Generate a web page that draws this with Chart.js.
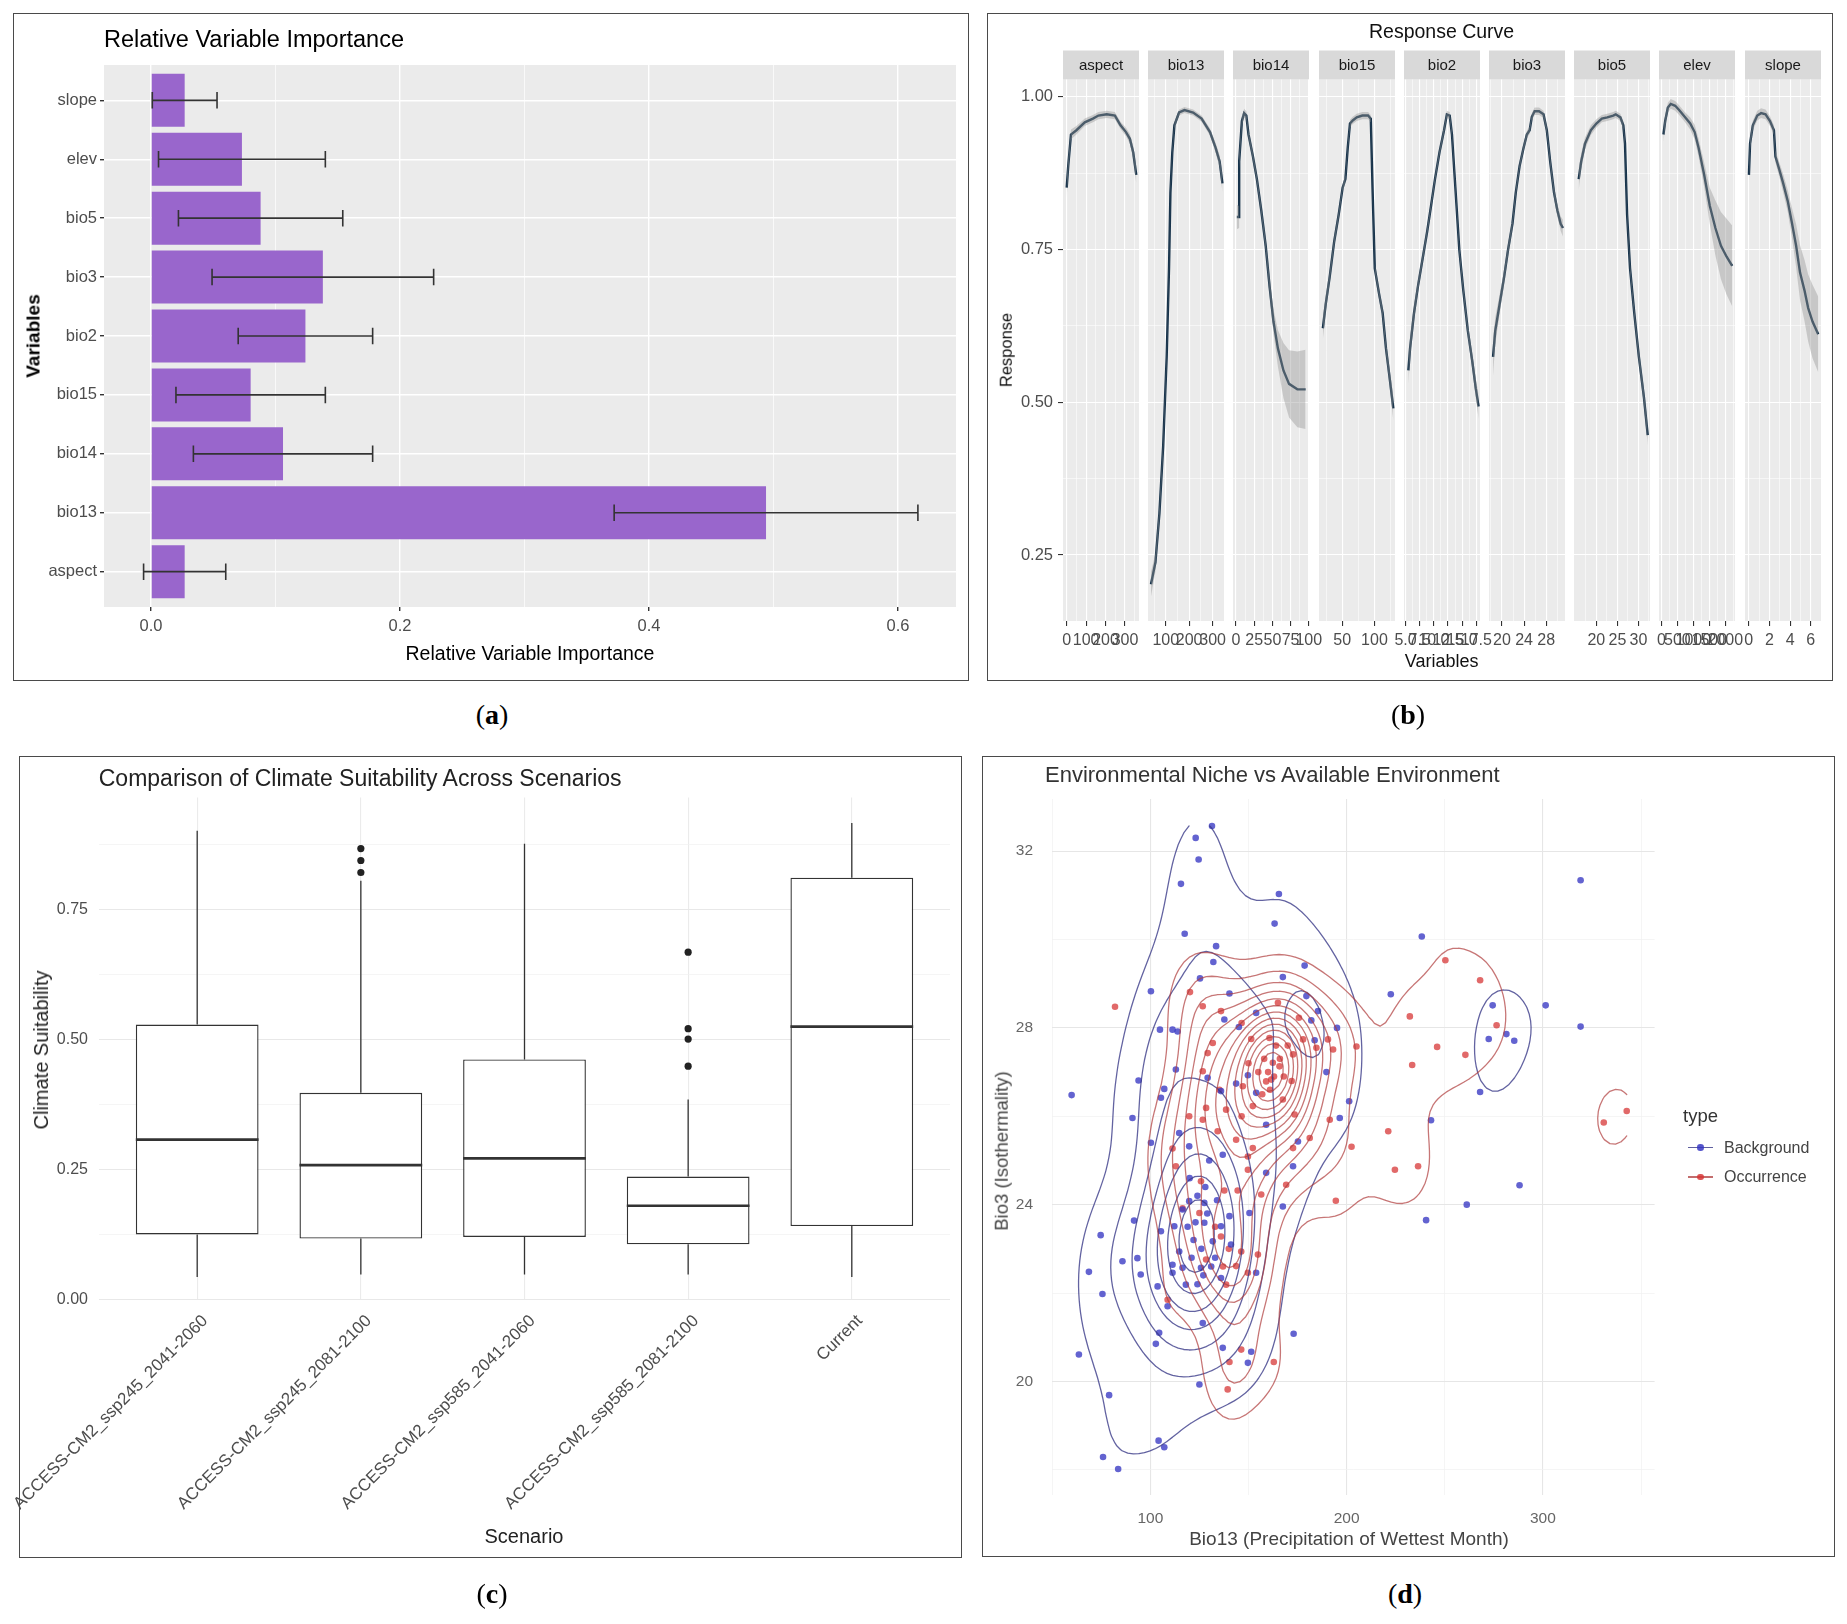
<!DOCTYPE html>
<html>
<head>
<meta charset="utf-8">
<script src="https://cdn.jsdelivr.net/npm/chart.js@4.4.1/dist/chart.umd.min.js"></script>
<style>
  body { margin: 0; background: #fff; width: 1847px; height: 1624px; position: relative; overflow: hidden;
         font-family: "Liberation Sans", Arial, sans-serif; color: #1a1a1a; }
  .frame { position: absolute; border: 1.5px solid #4a4a4a; box-sizing: border-box; }
  .t { position: absolute; white-space: nowrap; line-height: 1; }
  canvas { position: absolute; }
</style>
</head>
<body>
<div class="frame" style="left:13px;top:13px;width:956px;height:668px"></div>
<div class="frame" style="left:987px;top:13px;width:846px;height:668px"></div>
<div class="frame" style="left:19px;top:756px;width:943px;height:802px"></div>
<div class="frame" style="left:982px;top:756px;width:853px;height:801px"></div>
<script>
// ---------- (a) relative variable importance ----------
const varNames = ['aspect', 'bio13', 'bio14', 'bio15', 'bio2', 'bio3', 'bio5', 'elev', 'slope'];
const importance = [0.027, 0.494, 0.106, 0.080, 0.124, 0.138, 0.088, 0.073, 0.027];
const importanceSd = [0.033, 0.122, 0.072, 0.060, 0.054, 0.089, 0.066, 0.067, 0.026];
const importanceTicks = [0, 0.2, 0.4, 0.6];

// ---------- (b) response curves ----------
const aspectX = [0, 8, 22, 50, 93, 135, 163, 206, 248, 277, 305, 325, 342, 358];
const aspectY = [0.851, 0.887, 0.938, 0.945, 0.958, 0.964, 0.969, 0.971, 0.969, 0.953, 0.942, 0.931, 0.909, 0.872];
const aspectSe = [0.016, 0.012, 0.008, 0.007, 0.006, 0.006, 0.006, 0.006, 0.006, 0.006, 0.007, 0.008, 0.010, 0.014];

const bio13X = [37, 56, 73, 89, 104, 114, 120, 128, 137, 157, 180, 217, 253, 289, 313, 330, 342];
const bio13Y = [0.202, 0.238, 0.318, 0.428, 0.574, 0.719, 0.843, 0.909, 0.953, 0.974, 0.978, 0.974, 0.964, 0.942, 0.916, 0.894, 0.858];
const bio13Se = [0.020, 0.015, 0.012, 0.010, 0.008, 0.007, 0.006, 0.005, 0.005, 0.005, 0.005, 0.005, 0.005, 0.006, 0.008, 0.010, 0.014];

const bio14X = [1.2, 4.3, 4.4, 8.1, 11.2, 14.2, 17.2, 23.3, 28.7, 34.7, 40.8, 46.1, 51.5, 57.6, 65.2, 72.9, 84.3, 95.6];
const bio14Y = [0.803, 0.803, 0.894, 0.960, 0.973, 0.969, 0.938, 0.902, 0.865, 0.814, 0.756, 0.690, 0.632, 0.588, 0.552, 0.530, 0.521, 0.521];
const bio14Se = [0.020, 0.018, 0.012, 0.008, 0.007, 0.007, 0.007, 0.007, 0.007, 0.008, 0.010, 0.014, 0.020, 0.030, 0.045, 0.055, 0.062, 0.065];

const bio15X = [19.9, 24.4, 30.5, 37.5, 44.5, 50.6, 54.9, 58.5, 62.0, 66.3, 72.5, 81.2, 90.1, 94.3, 97.0, 100.5, 107.4, 112.7, 117.9, 123.1, 129.3];
const bio15Y = [0.621, 0.661, 0.705, 0.763, 0.807, 0.851, 0.865, 0.916, 0.956, 0.961, 0.966, 0.969, 0.969, 0.964, 0.851, 0.719, 0.676, 0.646, 0.588, 0.544, 0.490];
const bio15Se = [0.018, 0.014, 0.010, 0.008, 0.007, 0.006, 0.006, 0.006, 0.006, 0.006, 0.006, 0.006, 0.006, 0.006, 0.006, 0.007, 0.008, 0.009, 0.011, 0.014, 0.020];

const bio2X = [5.5, 5.8, 6.5, 7.2, 8.0, 8.8, 9.5, 10.2, 11.0, 11.8, 12.3, 12.8, 13.2, 13.8, 14.5, 15.2, 16.0, 16.8, 17.4, 17.9];
const bio2Y = [0.552, 0.588, 0.646, 0.690, 0.734, 0.778, 0.821, 0.865, 0.909, 0.945, 0.971, 0.969, 0.938, 0.851, 0.749, 0.683, 0.617, 0.566, 0.523, 0.493];
const bio2Se = [0.022, 0.018, 0.013, 0.010, 0.008, 0.007, 0.006, 0.006, 0.006, 0.006, 0.006, 0.006, 0.006, 0.007, 0.008, 0.009, 0.011, 0.013, 0.016, 0.020];

const bio3X = [18.4, 18.8, 19.6, 20.4, 21.1, 21.9, 22.5, 23.2, 23.9, 24.5, 25.0, 25.4, 25.9, 26.7, 27.5, 28.1, 28.7, 29.4, 30.0, 30.6, 31.0];
const bio3Y = [0.574, 0.617, 0.661, 0.705, 0.749, 0.792, 0.843, 0.887, 0.916, 0.938, 0.945, 0.967, 0.976, 0.976, 0.971, 0.945, 0.894, 0.843, 0.814, 0.792, 0.785];
const bio3Se = [0.030, 0.022, 0.016, 0.012, 0.010, 0.008, 0.007, 0.006, 0.006, 0.006, 0.006, 0.006, 0.006, 0.006, 0.006, 0.007, 0.008, 0.009, 0.010, 0.012, 0.014];

const bio5X = [15.8, 16.4, 17.3, 18.7, 20.0, 21.3, 22.6, 24.0, 24.6, 25.7, 26.4, 26.8, 27.3, 28.0, 29.0, 30.1, 31.3, 32.2];
const bio5Y = [0.865, 0.894, 0.923, 0.945, 0.956, 0.964, 0.966, 0.969, 0.971, 0.966, 0.953, 0.923, 0.807, 0.719, 0.646, 0.574, 0.508, 0.446];
const bio5Se = [0.018, 0.013, 0.010, 0.008, 0.007, 0.006, 0.006, 0.006, 0.006, 0.006, 0.006, 0.006, 0.007, 0.008, 0.009, 0.011, 0.013, 0.016];

const elevX = [66, 120, 205, 294, 433, 556, 730, 903, 1042, 1166, 1339, 1516, 1690, 1864, 2041, 2215];
const elevY = [0.938, 0.960, 0.982, 0.988, 0.985, 0.978, 0.967, 0.956, 0.942, 0.916, 0.872, 0.821, 0.785, 0.756, 0.738, 0.723];
const elevSe = [0.012, 0.010, 0.008, 0.008, 0.008, 0.008, 0.008, 0.010, 0.012, 0.015, 0.020, 0.030, 0.045, 0.055, 0.062, 0.066];

const slopeX = [0.01, 0.12, 0.39, 0.82, 1.19, 1.62, 2.05, 2.43, 2.58, 2.96, 3.33, 3.77, 4.19, 4.58, 4.96, 5.39, 5.75, 6.17, 6.72];
const slopeY = [0.872, 0.923, 0.953, 0.969, 0.973, 0.971, 0.960, 0.945, 0.902, 0.880, 0.858, 0.829, 0.792, 0.756, 0.712, 0.683, 0.654, 0.632, 0.611];
const slopeSe = [0.015, 0.010, 0.008, 0.008, 0.008, 0.008, 0.008, 0.008, 0.010, 0.012, 0.015, 0.018, 0.025, 0.035, 0.045, 0.050, 0.055, 0.060, 0.062];

const facetMin = [-19, 24.3, -4.1, 13.9, 4.73, 17.67, 14.69, -73, -0.37];
const facetMax = [372, 348.7, 100.3, 131.9, 18.15, 31.38, 32.74, 2303, 6.99];
const facetTicks = [[0, 100, 200, 300], [100, 200, 300], [0, 25, 50, 75, 100], [50, 100],
  [5, 7.5, 10, 12.5, 15, 17.5], [20, 24, 28], [20, 25, 30], [0, 500, 1000, 1500, 2000], [0, 2, 4, 6]];
const facetDecimals = [0, 0, 0, 0, 1, 0, 0, 0, 0];
const responseTicks = [0.25, 0.5, 0.75, 1.0];

// ---------- (c) climate suitability boxplots ----------
const scenarios = ['ACCESS-CM2_ssp245_2041-2060', 'ACCESS-CM2_ssp245_2081-2100',
  'ACCESS-CM2_ssp585_2041-2060', 'ACCESS-CM2_ssp585_2081-2100', 'Current'];
const whiskerLow = [0.044, 0.049, 0.049, 0.049, 0.044];
const boxQ1 = [0.126, 0.118, 0.121, 0.107, 0.142];
const boxMedian = [0.308, 0.259, 0.272, 0.181, 0.525];
const boxQ3 = [0.529, 0.398, 0.462, 0.237, 0.811];
const whiskerHigh = [0.901, 0.805, 0.876, 0.385, 0.916];
const outlierScenario = [2, 2, 2, 4, 4, 4, 4];
const outlierValue = [0.867, 0.844, 0.821, 0.668, 0.521, 0.501, 0.449];
const suitTicks = [0, 0.25, 0.5, 0.75];

// ---------- (d) niche vs available environment ----------
const bgX = [319.2, 238.3, 222.5, 274.4, 301.4, 319.2, 272.4, 281.4, 285.4, 268.0, 243.0, 288.1, 261.2, 240.5,
  131.4, 123.1, 124.6, 115.6, 165.5, 163.3, 117.5, 100.3, 59.9, 133.5, 132.1, 125.3, 178.6, 167.5, 140.3, 179.5,
  185.4, 153.9, 137.7, 145.1, 182.0, 195.1, 104.9, 111.3, 113.9, 183.7, 94.0, 113.0, 129.2, 143.7, 149.7, 153.9,
  107.1, 105.4, 90.9, 201.3, 189.7, 196.5, 159.0, 175.2, 114.7, 100.3, 136.0,
  119.8, 136.9, 159.0, 172.7, 167.5, 119.8, 127.5, 116.4, 112.2, 105.4, 91.7, 74.7, 127.5, 140.3, 136.0, 150.5,
  141.1, 114.7, 85.8, 93.4, 68.7, 111.3, 95.1, 116.4, 111.3, 103.7, 125.8, 75.6, 108.8, 118.1, 136.0, 153.9,
  126.7, 104.5, 102.8, 63.6, 136.9, 151.4, 149.7, 125.0, 173.0, 79.0, 104.2, 107.1, 75.9, 83.6, 131.8,
  122.0, 128.0, 133.0, 119.0, 124.0, 130.0, 120.0,
  126.0, 129.0, 123.0, 131.0, 121.0, 127.0, 134.0, 124.0];
const bgY = [31.34, 30.07, 28.76, 28.51, 28.51, 28.03, 27.75, 27.86, 27.71, 26.55, 25.91, 24.44, 24.00, 23.65,
  32.57, 32.30, 31.81, 31.26, 31.03, 30.36, 30.13, 28.83, 26.48, 29.85, 29.49, 29.12, 29.41, 29.15, 28.78, 28.72,
  28.38, 28.34, 28.19, 28.02, 28.17, 28.00, 27.96, 27.96, 27.92, 27.72, 26.81, 27.06, 26.87, 26.74, 26.93, 26.53,
  26.62, 26.42, 25.96, 26.34, 27.00, 25.96, 25.81, 25.43, 25.62, 25.40, 26.57,
  25.32, 25.13, 24.72, 24.87, 23.96, 24.08, 24.04, 23.89, 23.51, 23.40, 23.64, 23.31, 23.59, 23.74, 23.51, 23.81,
  23.10, 22.94, 22.72, 22.79, 22.48, 22.64, 22.42, 22.57, 22.46, 22.15, 22.57, 21.98, 21.70, 22.19, 22.34, 22.46,
  21.32, 21.10, 20.85, 20.61, 20.76, 20.67, 20.42, 19.93, 21.08, 19.69, 18.66, 18.51, 18.29, 18.02, 23.17,
  23.2, 24.4, 22.8, 23.5, 22.2, 25.0, 24.6,
  23.0, 23.8, 23.6, 22.6, 22.8, 22.4, 24.1, 24.2];
const occX = [250.3, 268.0, 232.2, 276.4, 246.1, 233.4, 260.5, 221.2, 224.6, 236.4, 342.7, 331.0, 202.5,
  82.0, 120.2, 126.7, 136.0, 165.0, 175.7, 146.5, 151.4, 160.7, 131.8, 177.8, 184.6, 190.5, 193.1, 205.0, 129.2,
  162.4, 165.8, 172.7, 126.7, 159.0, 161.6, 135.2, 128.4, 138.6, 147.1, 152.2, 167.5, 173.5, 146.5, 126.7, 134.3,
  143.7, 181.2, 191.4, 119.8, 172.7,
  111.3, 113.0, 125.8, 137.7, 144.5, 149.7, 152.2, 149.7, 156.5, 169.2, 194.5, 125.0, 116.4, 136.0, 146.3, 154.8,
  128.4, 143.7, 149.7, 138.6, 108.8, 146.3, 140.3, 162.9, 139.4,
  160.0, 163.0, 158.0, 166.0, 161.0, 155.0, 168.0, 170.0, 157.0, 164.0, 150.0, 172.0, 133.0, 140.0, 137.0];
const occY = [29.53, 29.08, 28.26, 28.06, 27.57, 27.16, 27.39, 25.66, 24.79, 24.87, 26.12, 25.86, 25.31,
  28.48, 28.81, 28.49, 28.38, 28.57, 28.23, 28.11, 27.75, 27.77, 27.66, 27.74, 27.55, 27.74, 27.51, 27.58, 27.43,
  27.21, 27.13, 27.40, 27.02, 26.79, 26.83, 26.60, 26.19, 26.15, 26.68, 26.23, 26.38, 26.04, 26.00, 25.92, 25.66,
  25.47, 25.51, 25.92, 26.00, 25.28,
  25.27, 24.87, 24.53, 24.32, 24.32, 25.09, 25.28, 24.79, 24.23, 24.45, 24.09, 23.81, 23.92, 23.28, 22.94, 22.87,
  22.76, 22.61, 22.46, 22.19, 21.85, 20.72, 20.44, 20.44, 19.82,
  27.0, 26.9, 27.3, 27.3, 26.6, 27.0, 26.9, 27.6, 26.5, 27.6, 27.2, 26.8, 23.5, 23.0, 22.6];
const precipTicks = [100, 200, 300];
const isoTicks = [20, 24, 28, 32];
const contourBins = 15;

// ================= helpers =================
Chart.defaults.animation = false;
Chart.defaults.events = [];
Chart.defaults.font.family = '"Liberation Sans", Arial, sans-serif';
Chart.defaults.plugins.legend.display = false;
Chart.defaults.plugins.tooltip.enabled = false;

function canvasAt(left, top, w, h) {
  const c = document.createElement('canvas');
  c.width = w; c.height = h;
  c.style.left = left + 'px'; c.style.top = top + 'px';
  c.style.width = w + 'px'; c.style.height = h + 'px';
  document.body.appendChild(c);
  return c;
}

function txt(s, x, y, size, o = {}) {
  const d = document.createElement('div');
  d.className = 't';
  if (o.html) d.innerHTML = s; else d.textContent = s;
  d.style.left = x + 'px'; d.style.top = y + 'px';
  d.style.fontSize = size + 'px';
  if (o.bold) d.style.fontWeight = 'bold';
  if (o.color) d.style.color = o.color;
  if (o.family) d.style.fontFamily = o.family;
  const tx = o.align === 'left' ? '0' : '-50%';
  d.style.transform = 'translate(' + tx + ',-50%)' + (o.rot ? ' rotate(' + o.rot + 'deg)' : '');
  document.body.appendChild(d);
  return d;
}

// major ticks plus ggplot-style minor ticks halfway between
function withMinor(major, min, max) {
  const step = major.length > 1 ? major[1] - major[0] : 0;
  const out = [];
  if (step) out.push({ value: major[0] - step / 2, major: false });
  major.forEach(v => {
    out.push({ value: v, major: true });
    if (step) out.push({ value: v + step / 2, major: false });
  });
  return out.filter(t => t.value >= min - 1e-9 && t.value <= max + 1e-9);
}

function noPad(s) { s.paddingLeft = 0; s.paddingRight = 0; s.paddingTop = 0; s.paddingBottom = 0; }

const greyPanel = {
  id: 'greyPanel',
  beforeDraw(chart, args, opts) {
    const { ctx, chartArea: a } = chart;
    ctx.save();
    ctx.fillStyle = '#EBEBEB';
    ctx.fillRect(a.left, a.top, a.right - a.left, a.bottom - a.top);
    if (opts.strip) {
      ctx.fillStyle = '#D9D9D9';
      ctx.fillRect(a.left, a.top - opts.stripH, a.right - a.left, opts.stripH);
      ctx.fillStyle = '#1A1A1A';
      ctx.font = '15px "Liberation Sans", Arial, sans-serif';
      ctx.textAlign = 'center';
      ctx.textBaseline = 'middle';
      ctx.fillText(opts.strip, (a.left + a.right) / 2, a.top - opts.stripH / 2 + 1);
    }
    ctx.restore();
  }
};

// ================= (a) =================
const errorBars = {
  id: 'errorBars',
  afterDatasetsDraw(chart) {
    const { ctx, scales: { x, y } } = chart;
    ctx.save();
    ctx.strokeStyle = '#333';
    ctx.lineWidth = 1.6;
    importance.forEach((v, i) => {
      const py = y.getPixelForValue(i + 1);
      const x0 = x.getPixelForValue(v - importanceSd[i]);
      const x1 = x.getPixelForValue(v + importanceSd[i]);
      const cap = Math.abs(y.getPixelForValue(i + 1.14) - py);
      ctx.beginPath();
      ctx.moveTo(x0, py); ctx.lineTo(x1, py);
      ctx.moveTo(x0, py - cap); ctx.lineTo(x0, py + cap);
      ctx.moveTo(x1, py - cap); ctx.lineTo(x1, py + cap);
      ctx.stroke();
    });
    ctx.restore();
  }
};

new Chart(canvasAt(15, 15, 951, 663), {
  type: 'bar',
  data: {
    datasets: [{
      data: varNames.map((n, i) => ({ x: importance[i], y: i + 1 })),
      backgroundColor: '#9966CC',
      barPercentage: 0.9,
      categoryPercentage: 1
    }]
  },
  options: {
    responsive: false,
    indexAxis: 'y',
    layout: { padding: { left: 0, top: 50, right: 10, bottom: 0 } },
    scales: {
      x: {
        type: 'linear', min: -0.0378, max: 0.6466,
        afterBuildTicks: s => { s.ticks = withMinor(importanceTicks, s.min, s.max); },
        ticks: {
          autoSkip: false, maxRotation: 0, padding: 6, color: '#4D4D4D',
          font: { size: 16.5 },
          callback: (v, i, t) => t[i].major ? v.toFixed(1) : ''
        },
        grid: {
          color: '#fff', tickLength: 4,
          lineWidth: c => (c.tick && c.tick.major) ? 1.4 : 0.7,
          tickColor: c => (c.tick && c.tick.major) ? '#333' : 'rgba(0,0,0,0)'
        },
        border: { display: false },
        afterFit: s => { s.height = 71; noPad(s); }
      },
      y: {
        type: 'linear', min: 0.4, max: 9.6, offset: false,
        afterBuildTicks: s => { s.ticks = varNames.map((n, i) => ({ value: i + 1, major: true })); },
        ticks: {
          autoSkip: false, padding: 3, color: '#4D4D4D', font: { size: 16.5 },
          callback: v => varNames[Math.round(v) - 1]
        },
        grid: { color: '#fff', lineWidth: 1.4, offset: false, tickLength: 4, tickColor: '#333' },
        border: { display: false },
        afterFit: s => { s.width = 89; noPad(s); }
      }
    },
    plugins: { greyPanel: {} }
  },
  plugins: [greyPanel, errorBars]
});

txt('Relative Variable Importance', 104, 40, 23.5, { align: 'left', color: '#000' });
txt('Variables', 33, 336, 19, { bold: true, rot: -90, color: '#000' });
txt('Relative Variable Importance', 530, 654, 19.5, { color: '#000' });
txt('(<b>a</b>)', 492, 715, 28, { html: true, family: '"Liberation Serif", "DejaVu Serif", serif', color: '#000' });

// ================= (b) =================
const facets = [
  ['aspect', aspectX, aspectY, aspectSe], ['bio13', bio13X, bio13Y, bio13Se], ['bio14', bio14X, bio14Y, bio14Se],
  ['bio15', bio15X, bio15Y, bio15Se], ['bio2', bio2X, bio2Y, bio2Se], ['bio3', bio3X, bio3Y, bio3Se],
  ['bio5', bio5X, bio5Y, bio5Se], ['elev', elevX, elevY, elevSe], ['slope', slopeX, slopeY, slopeSe]
];
const B_LEFT = 1063, B_STEP = 85.2, B_W = 75.6, B_TOP = 79.5, B_BOTTOM = 621, B_CANVAS_TOP = 15, B_CANVAS_BOTTOM = 678;
const B_MARGIN = 30, B_AXIS_LEFT = 990;
const responseGrid = withMinor(responseTicks, 0.142, 1.028);

facets.forEach(([name, xs, ys, se], k) => {
  const first = k === 0;
  const pLeft = B_LEFT + k * B_STEP;
  const cLeft = first ? B_AXIS_LEFT : pLeft - B_MARGIN;
  const cWidth = Math.round(pLeft + B_W + B_MARGIN - cLeft);
  const dec = facetDecimals[k];
  new Chart(canvasAt(cLeft, B_CANVAS_TOP, cWidth, B_CANVAS_BOTTOM - B_CANVAS_TOP), {
    type: 'line',
    data: {
      datasets: [
        { data: xs.map((x, i) => ({ x, y: ys[i] + se[i] })), fill: '+1', backgroundColor: 'rgba(150,150,150,0.42)',
          borderWidth: 0, pointRadius: 0 },
        { data: xs.map((x, i) => ({ x, y: ys[i] - se[i] })), fill: false, borderWidth: 0, pointRadius: 0 },
        { data: xs.map((x, i) => ({ x, y: ys[i] })), fill: false, borderColor: '#18344C', borderWidth: 2.4,
          pointRadius: 0, tension: 0 }
      ]
    },
    options: {
      responsive: false,
      layout: { padding: { left: first ? 0 : pLeft - cLeft, right: B_MARGIN, top: B_TOP - B_CANVAS_TOP, bottom: 0 } },
      scales: {
        x: {
          type: 'linear', min: facetMin[k], max: facetMax[k],
          afterBuildTicks: s => { s.ticks = withMinor(facetTicks[k], s.min, s.max); },
          ticks: {
            autoSkip: false, maxRotation: 0, minRotation: 0, padding: 5, color: '#4D4D4D', font: { size: 16 },
            callback: (v, i, t) => t[i].major ? v.toFixed(dec) : ''
          },
          grid: {
            color: '#fff', tickLength: 5,
            lineWidth: c => (c.tick && c.tick.major) ? 1.1 : 0.55,
            tickColor: c => (c.tick && c.tick.major) ? '#333' : 'rgba(0,0,0,0)'
          },
          border: { display: false },
          afterFit: s => { s.height = B_CANVAS_BOTTOM - B_BOTTOM; noPad(s); }
        },
        y: {
          type: 'linear', min: 0.142, max: 1.028,
          afterBuildTicks: s => { s.ticks = responseGrid.map(t => ({ value: t.value, major: t.major })); },
          ticks: {
            display: first, padding: 5, color: '#4D4D4D', font: { size: 16.5 },
            callback: (v, i, t) => t[i].major ? v.toFixed(2) : ''
          },
          grid: {
            color: '#fff', drawTicks: first, tickLength: 5,
            lineWidth: c => (c.tick && c.tick.major) ? 1.1 : 0.55,
            tickColor: c => (c.tick && c.tick.major) ? '#333' : 'rgba(0,0,0,0)'
          },
          border: { display: false },
          afterFit: s => { s.width = first ? B_LEFT - B_AXIS_LEFT : 0; noPad(s); }
        }
      },
      plugins: { greyPanel: { strip: name, stripH: 29 } }
    },
    plugins: [greyPanel]
  });
});

txt('Response Curve', 1441.6, 32, 19.5, { color: '#111' });
txt('Response', 1006, 350, 16.5, { rot: -90, color: '#111' });
txt('Variables', 1441.6, 661, 18, { color: '#111' });
txt('(<b>b</b>)', 1408, 715, 28, { html: true, family: '"Liberation Serif", "DejaVu Serif", serif', color: '#000' });

// ================= (c) =================
const boxWhiskers = {
  id: 'boxWhiskers',
  beforeDatasetsDraw(chart) {
    const { ctx, scales: { x, y } } = chart;
    ctx.save();
    ctx.strokeStyle = '#333';
    ctx.lineWidth = 1.3;
    scenarios.forEach((s, i) => {
      const px = x.getPixelForValue(i + 1);
      ctx.beginPath();
      ctx.moveTo(px, y.getPixelForValue(whiskerLow[i])); ctx.lineTo(px, y.getPixelForValue(boxQ1[i]));
      ctx.moveTo(px, y.getPixelForValue(boxQ3[i])); ctx.lineTo(px, y.getPixelForValue(whiskerHigh[i]));
      ctx.stroke();
    });
    ctx.restore();
  },
  afterDatasetsDraw(chart) {
    const { ctx, scales: { x, y } } = chart;
    ctx.save();
    ctx.strokeStyle = '#333';
    ctx.lineWidth = 2.6;
    scenarios.forEach((s, i) => {
      const x0 = x.getPixelForValue(i + 1 - 0.375), x1 = x.getPixelForValue(i + 1 + 0.375);
      const py = y.getPixelForValue(boxMedian[i]);
      ctx.beginPath(); ctx.moveTo(x0, py); ctx.lineTo(x1, py); ctx.stroke();
    });
    ctx.restore();
  }
};

const suitGrid = withMinor(suitTicks, 0, 0.965);
new Chart(canvasAt(0, 758, 959, 797), {
  type: 'bar',
  data: {
    datasets: [
      { type: 'bar', data: scenarios.map((s, i) => ({ x: i + 1, y: [boxQ1[i], boxQ3[i]] })),
        backgroundColor: '#fff', borderColor: '#333', borderWidth: 1.4, borderSkipped: false,
        barPercentage: 0.75, categoryPercentage: 1 },
      { type: 'scatter', data: outlierScenario.map((p, i) => ({ x: p, y: outlierValue[i] })),
        pointRadius: 3.6, backgroundColor: '#222', borderWidth: 0 }
    ]
  },
  options: {
    responsive: false,
    layout: { padding: { left: 0, top: 39.5, right: 9, bottom: 0 } },
    scales: {
      x: {
        type: 'linear', min: 0.4, max: 5.6, offset: false,
        afterBuildTicks: s => { s.ticks = scenarios.map((n, i) => ({ value: i + 1, major: true })); },
        ticks: {
          autoSkip: false, minRotation: 45, maxRotation: 45, padding: 11, labelOffset: 8,
          color: '#4D4D4D', font: { size: 17 },
          callback: v => scenarios[Math.round(v) - 1]
        },
        grid: { color: '#EBEBEB', lineWidth: 1.1, offset: false, drawTicks: false },
        border: { display: false },
        afterFit: s => { s.height = 255; noPad(s); }
      },
      y: {
        type: 'linear', min: 0, max: 0.965,
        afterBuildTicks: s => { s.ticks = suitGrid.map(t => ({ value: t.value, major: t.major })); },
        ticks: {
          padding: 11, color: '#4D4D4D', font: { size: 16 },
          callback: (v, i, t) => t[i].major ? v.toFixed(2) : ''
        },
        grid: {
          drawTicks: false,
          color: c => (c.tick && c.tick.major) ? '#E8E8E8' : '#F1F1F1',
          lineWidth: c => (c.tick && c.tick.major) ? 1.1 : 0.7
        },
        border: { display: false },
        afterFit: s => { s.width = 99; noPad(s); }
      }
    }
  },
  plugins: [boxWhiskers]
});

txt('Comparison of Climate Suitability Across Scenarios', 98.75, 778, 23, { align: 'left', color: '#222' });
txt('Climate Suitability', 41, 1050, 20, { rot: -90, color: '#222' });
txt('Scenario', 524, 1536, 20, { color: '#222' });
txt('(<b>c</b>)', 492, 1594, 28, { html: true, family: '"Liberation Serif", "DejaVu Serif", serif', color: '#000' });

// ================= (d) =================
// 2-D kernel density (as MASS::kde2d with bandwidth.nrd), then iso-lines
function bwNrd(v) {
  const n = v.length, s = [...v].sort((a, b) => a - b);
  const q = p => { const h = (n - 1) * p, lo = Math.floor(h); return s[lo] + (h - lo) * (s[Math.min(lo + 1, n - 1)] - s[lo]); };
  const m = v.reduce((a, b) => a + b, 0) / n;
  const sd = Math.sqrt(v.reduce((a, b) => a + (b - m) * (b - m), 0) / (n - 1));
  return 4 * 1.06 * Math.min(sd, (q(0.75) - q(0.25)) / 1.34) * Math.pow(n, -0.2);
}
function kde2d(xs, ys, lims, n) {
  const hx = bwNrd(xs) / 4, hy = bwNrd(ys) / 4;
  const gx = [], gy = [];
  for (let i = 0; i < n; i++) {
    gx.push(lims[0] + (lims[1] - lims[0]) * i / (n - 1));
    gy.push(lims[2] + (lims[3] - lims[2]) * i / (n - 1));
  }
  const dn = u => Math.exp(-0.5 * u * u) / Math.sqrt(2 * Math.PI);
  const ax = gx.map(g => xs.map(x => dn((g - x) / hx)));
  const ay = gy.map(g => ys.map(y => dn((g - y) / hy)));
  const z = [];
  for (let i = 0; i < n; i++) {
    const row = [];
    for (let j = 0; j < n; j++) {
      let sum = 0;
      for (let k = 0; k < xs.length; k++) sum += ax[i][k] * ay[j][k];
      row.push(sum / (xs.length * hx * hy));
    }
    z.push(row);
  }
  return { gx, gy, z };
}
const CASES = [[], [[3, 0]], [[0, 1]], [[3, 1]], [[1, 2]], [[3, 2], [0, 1]], [[0, 2]], [[3, 2]],
  [[2, 3]], [[0, 2]], [[0, 1], [2, 3]], [[1, 2]], [[1, 3]], [[0, 1]], [[3, 0]], []];
function isoSegments(g, l) {
  const { gx, gy, z } = g, segs = [];
  for (let i = 0; i < gx.length - 1; i++) {
    for (let j = 0; j < gy.length - 1; j++) {
      const z00 = z[i][j], z10 = z[i + 1][j], z11 = z[i + 1][j + 1], z01 = z[i][j + 1];
      const c = (z00 > l ? 1 : 0) | (z10 > l ? 2 : 0) | (z11 > l ? 4 : 0) | (z01 > l ? 8 : 0);
      if (c === 0 || c === 15) continue;
      const pt = e => {
        if (e === 0) return [gx[i] + (l - z00) / (z10 - z00) * (gx[i + 1] - gx[i]), gy[j]];
        if (e === 1) return [gx[i + 1], gy[j] + (l - z10) / (z11 - z10) * (gy[j + 1] - gy[j])];
        if (e === 2) return [gx[i] + (l - z01) / (z11 - z01) * (gx[i + 1] - gx[i]), gy[j + 1]];
        return [gx[i], gy[j] + (l - z00) / (z01 - z00) * (gy[j + 1] - gy[j])];
      };
      CASES[c].forEach(([a, b]) => { const p = pt(a), q = pt(b); segs.push([p[0], p[1], q[0], q[1]]); });
    }
  }
  return segs;
}

const allX = bgX.concat(occX), allY = bgY.concat(occY);
const lims = [Math.min(...allX), Math.max(...allX), Math.min(...allY), Math.max(...allY)];
const densBg = kde2d(bgX, bgY, lims, 100);
const densOcc = kde2d(occX, occY, lims, 100);
const zAll = densBg.z.flat().concat(densOcc.z.flat());
const zMax = Math.max(...zAll);
const accuracy = Number(zMax.toPrecision(1)) / 10;
const zTop = Math.ceil(zMax / accuracy) * accuracy;
const binWidth = zTop / (contourBins - 1);
const levels = [];
for (let k = 1; k < contourBins; k++) levels.push(k * binWidth);

const densityGroups = [
  { grid: densBg, color: 'rgba(55,55,135,0.78)' },
  { grid: densOcc, color: 'rgba(175,60,60,0.7)' }
];
const contours = {
  id: 'contours',
  afterDatasetsDraw(chart) {
    const { ctx, chartArea: a, scales: { x, y } } = chart;
    ctx.save();
    ctx.beginPath(); ctx.rect(a.left, a.top, a.right - a.left, a.bottom - a.top); ctx.clip();
    ctx.lineWidth = 1.3; ctx.lineCap = 'round'; ctx.lineJoin = 'round';
    densityGroups.forEach(g => {
      ctx.strokeStyle = g.color;
      levels.forEach(l => {
        ctx.beginPath();
        isoSegments(g.grid, l).forEach(s => {
          ctx.moveTo(x.getPixelForValue(s[0]), y.getPixelForValue(s[1]));
          ctx.lineTo(x.getPixelForValue(s[2]), y.getPixelForValue(s[3]));
        });
        ctx.stroke();
      });
    });
    ctx.restore();
  }
};

const precipGrid = withMinor(precipTicks, 49.9, 356.9);
const isoGrid = withMinor(isoTicks, 17.43, 33.18);
new Chart(canvasAt(984, 758, 848, 796), {
  type: 'scatter',
  data: {
    datasets: [
      { data: bgX.map((x, i) => ({ x, y: bgY[i] })), backgroundColor: 'rgba(55,55,195,0.78)', pointRadius: 3.3, borderWidth: 0 },
      { data: occX.map((x, i) => ({ x, y: occY[i] })), backgroundColor: 'rgba(215,55,55,0.75)', pointRadius: 3.3, borderWidth: 0 }
    ]
  },
  options: {
    responsive: false,
    layout: { padding: { left: 0, top: 41, right: 177.4, bottom: 0 } },
    scales: {
      x: {
        type: 'linear', min: 49.9, max: 356.9,
        afterBuildTicks: s => { s.ticks = precipGrid.map(t => ({ value: t.value, major: t.major })); },
        ticks: { autoSkip: false, maxRotation: 0, padding: 14, color: '#666', font: { size: 15.5 },
          callback: (v, i, t) => t[i].major ? String(v) : '' },
        grid: { drawTicks: false, color: c => (c.tick && c.tick.major) ? '#E6E6E6' : '#F0F0F0',
          lineWidth: c => (c.tick && c.tick.major) ? 1.1 : 0.7 },
        border: { display: false },
        afterFit: s => { s.height = 59; noPad(s); }
      },
      y: {
        type: 'linear', min: 17.43, max: 33.18,
        afterBuildTicks: s => { s.ticks = isoGrid.map(t => ({ value: t.value, major: t.major })); },
        ticks: { padding: 19, color: '#666', font: { size: 15.5 },
          callback: (v, i, t) => t[i].major ? String(v) : '' },
        grid: { drawTicks: false, color: c => (c.tick && c.tick.major) ? '#E6E6E6' : '#F0F0F0',
          lineWidth: c => (c.tick && c.tick.major) ? 1.1 : 0.7 },
        border: { display: false },
        afterFit: s => { s.width = 68; noPad(s); }
      }
    }
  },
  plugins: [contours]
});

txt('Environmental Niche vs Available Environment', 1045, 775, 22, { align: 'left', color: '#333' });
txt('Bio3 (Isothermality)', 1002, 1151, 18.5, { rot: -90, color: '#444' });
txt('Bio13 (Precipitation of Wettest Month)', 1349, 1538, 19, { color: '#444' });
txt('type', 1683, 1116, 18.5, { align: 'left', color: '#333' });
[['Background', 'rgba(55,55,195,0.85)', 'rgba(55,55,135,0.8)', 1147.5], ['Occurrence', 'rgba(215,55,55,0.85)', 'rgba(175,60,60,0.75)', 1177]]
  .forEach(([lab, pc, lc, y]) => {
    const line = document.createElement('div');
    line.style.cssText = 'position:absolute;left:1688px;top:' + (y - 0.7) + 'px;width:25px;height:1.4px;background:' + lc;
    document.body.appendChild(line);
    const dot = document.createElement('div');
    dot.style.cssText = 'position:absolute;left:' + (1700.5 - 3.3) + 'px;top:' + (y - 3.3) + 'px;width:6.6px;height:6.6px;border-radius:50%;background:' + pc;
    document.body.appendChild(dot);
    txt(lab, 1724, y, 16, { align: 'left', color: '#444' });
  });
txt('(<b>d</b>)', 1405, 1594, 28, { html: true, family: '"Liberation Serif", "DejaVu Serif", serif', color: '#000' });
</script>
</body>
</html>
